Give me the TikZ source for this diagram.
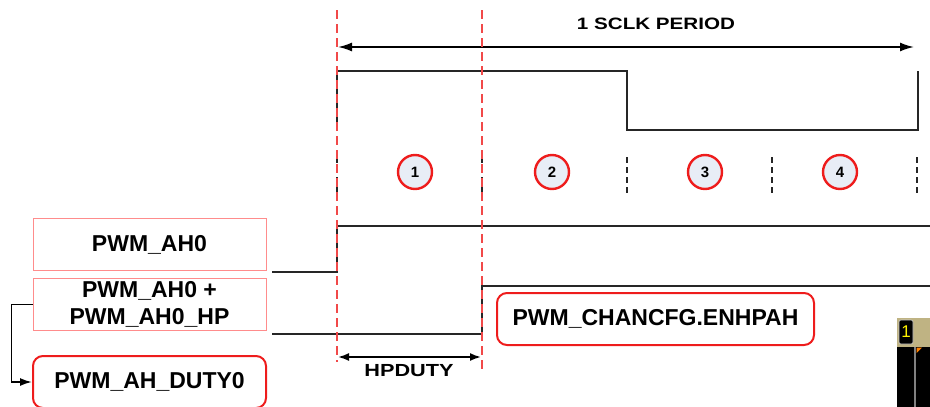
\documentclass[tikz,border=0pt]{standalone}
\usepackage{fontspec}
\setmainfont{Liberation Sans}
\usetikzlibrary{arrows.meta}
\definecolor{lred}{HTML}{FF8C8C}
\definecolor{dred}{HTML}{EE1C1C}
\definecolor{cfill}{HTML}{E8EDF6}
\definecolor{khaki}{HTML}{BFB383}
\begin{document}
\begin{tikzpicture}[x=1pt,y=-1pt,
  sig/.style={line width=2.4pt, black!85},
  lbox/.style={draw=lred, line width=1pt, minimum width=233pt, minimum height=52pt,
    font=\fontsize{23}{27}\selectfont\bfseries, align=center, inner sep=0pt},
  rbox/.style={draw=dred, line width=2pt, rounded corners=10pt, minimum height=52pt,
    font=\fontsize{23}{27}\selectfont\bfseries, inner sep=0pt},
  num/.style={circle, draw=dred, line width=2.4pt, fill=cfill, minimum size=34pt,
    inner sep=0pt, font=\fontsize{15}{15}\selectfont\bfseries},
  tickln/.style={line width=2.4pt, black!85, dash pattern=on 6pt off 4pt},
  rdash/.style={dred!80, line width=1.3pt, dash pattern=on 9pt off 5pt},
  wide/.style={font=\fontsize{16.5}{18}\selectfont\bfseries},
]
\useasboundingbox (0,0) rectangle (930,407);

% top waveform
\draw[sig] (337,130) -- (337,71) -- (627,71) -- (627,130) -- (918,130) -- (918,71);

% period arrow
\coordinate (pa) at (338,47);
\coordinate (pb) at (914,47);
\draw[line width=1.8pt, {Latex[length=14pt,width=9pt]}-{Latex[length=14pt,width=9pt]}] (pa) -- (pb);
\node[wide] (period) at (656,24) {\scalebox{1.25}[1]{1 SCLK PERIOD}};

% tick marks
\foreach \x in {337,482,627,772,917}
  \draw[tickln] (\x,157) -- (\x,193);

% circled numbers
\node[num] (c1) at (415,172) {1};
\node[num] (c2) at (552,172) {2};
\node[num] (c3) at (705,172) {3};
\node[num] (c4) at (840,172) {4};

% signals
\draw[sig] (272,272) -- (337,272) -- (337,226) -- (930,226);
\draw[sig] (272,334) -- (482,334) -- (482,286) -- (930,286);

% label boxes
\node[lbox] (ah0) at (149.5,244.5) {PWM\_AH0};
\node[lbox] (ahhp) at (149.5,304.5) {PWM\_AH0 +\\PWM\_AH0\_HP};
\node[rbox, minimum width=233pt] (duty) at (149.5,382) {PWM\_AH\_DUTY0};
\node[rbox, minimum width=317pt] (enh) at (655.5,319) {PWM\_CHANCFG.ENHPAH};

\draw[line width=1.8pt, -{Latex[length=12pt,width=8pt]}] (ahhp.west) -- ++(-21,0) |- (duty.west);

% HPDUTY
\coordinate (ha) at (338,357);
\coordinate (hb) at (481,357);
\draw[line width=1.8pt, {Latex[length=11pt,width=8pt]}-{Latex[length=11pt,width=8pt]}] (ha) -- (hb);
\node[font=\fontsize{17.5}{18}\selectfont\bfseries] (hp) at (409,371) {\scalebox{1.24}[1]{HPDUTY}};

% red dashed markers
\draw[rdash] (337,10) -- (337,362);
\draw[rdash] (482,10) -- (482,373);

% corner artifact
\fill[khaki] (897,318) rectangle (930,347);
\fill[black] (897,347) rectangle (930,407);
\draw[gray, line width=1.5pt] (915,347) -- (915,407);
\fill[orange] (916.5,347.5) -- (922,347.5) -- (916.5,353) -- cycle;
\node[fill=black, draw=white!80!black, line width=0.6pt, rounded corners=2pt, minimum width=14pt, minimum height=24pt,
  text=yellow, font=\fontsize{17}{17}\selectfont, inner sep=0pt] (ind) at (906,332) {1};
\end{tikzpicture}
\end{document}
